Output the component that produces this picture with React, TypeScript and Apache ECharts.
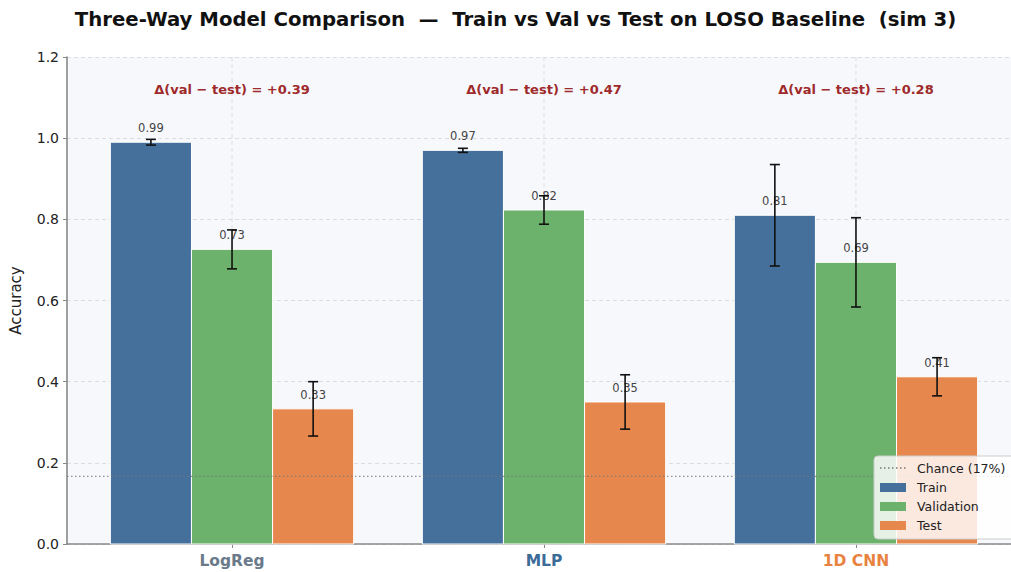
import React, { useEffect, useRef } from "react";
import * as echarts from "echarts";

// Models compared, and the colour each model name is printed in
const categories = ["LogReg", "MLP", "1D CNN"];
const categoryColors = ["#6b7a8a", "#3c6b98", "#e8833f"];

// Data splits
const splitNames = ["Train", "Validation", "Test"];
const splitColors = ["#44709b", "#6cb26c", "#e6884e"];

// Mean accuracy and standard deviation per model
const trainAcc = [0.99, 0.97, 0.81];
const trainStd = [0.007, 0.005, 0.125];
const valAcc = [0.726, 0.823, 0.694];
const valStd = [0.048, 0.035, 0.11];
const testAcc = [0.333, 0.35, 0.412];
const testStd = [0.067, 0.067, 0.047];

const chanceLevel = 1 / 6;
const chanceLabel = "Chance (17%)";

const FONT = "DejaVu Sans";
const BAR_W = 0.26;
const OFFSETS = [-BAR_W, 0, BAR_W];
const X_MIN = -0.529;
const X_MAX = 2.529;
const Y_MAX = 1.2;

const means = [trainAcc, valAcc, testAcc];
const stds = [trainStd, valStd, testStd];

const GRID_LINE = { stroke: "#dcdde3", lineWidth: 1, lineDash: [4, 3] };

function barSeries(s: number) {
  const data = categories.map((_, i) => [i, means[s][i], stds[s][i]]);
  return {
    type: "custom",
    name: splitNames[s],
    data,
    z: 3,
    renderItem: (_params: any, api: any) => {
      const i = api.value(0) as number;
      const v = api.value(1) as number;
      const sd = api.value(2) as number;
      const xc = i + OFFSETS[s];
      const tl = api.coord([xc - BAR_W / 2, v]);
      const br = api.coord([xc + BAR_W / 2, 0]);
      const top = api.coord([xc, v + sd]);
      const bot = api.coord([xc, v - sd]);
      const lbl = api.coord([xc, v + 0.02]);
      const cap = 5;
      const errStyle = { stroke: "#111", lineWidth: 1.6 };
      return {
        type: "group",
        children: [
          {
            type: "rect",
            shape: { x: tl[0], y: tl[1], width: br[0] - tl[0], height: br[1] - tl[1] },
            style: { fill: splitColors[s], stroke: "#ffffff", lineWidth: 1 },
          },
          {
            type: "text",
            x: lbl[0],
            y: lbl[1],
            style: {
              text: v.toFixed(2),
              fill: "#444444",
              font: `11.5px "${FONT}"`,
              align: "center",
              verticalAlign: "bottom",
            },
          },
          { type: "line", shape: { x1: top[0], y1: top[1], x2: bot[0], y2: bot[1] }, style: errStyle },
          { type: "line", shape: { x1: top[0] - cap, y1: top[1], x2: top[0] + cap, y2: top[1] }, style: errStyle },
          { type: "line", shape: { x1: bot[0] - cap, y1: bot[1], x2: bot[0] + cap, y2: bot[1] }, style: errStyle },
        ],
      };
    },
  };
}

export default function App() {
  const ref = useRef<HTMLDivElement>(null);

  useEffect(() => {
    if (!ref.current) return;
    const chart = echarts.init(ref.current, undefined, { renderer: "svg" });

    const deltas = categories.map((_, i) => [i, valAcc[i] - testAcc[i]]);
    const rich: Record<string, any> = {};
    categories.forEach((_, i) => {
      rich["c" + i] = { color: categoryColors[i], fontWeight: "bold", fontSize: 15.5, fontFamily: FONT };
    });

    // legend drawn as a framed box in the lower right corner
    const lx = 874;
    const ly = 456;
    const legendRows = [chanceLabel, ...splitNames];
    const legendChildren: any[] = [
      {
        type: "rect",
        z: 100,
        shape: { x: lx, y: ly, width: 170, height: 83, r: 4 },
        style: { fill: "rgba(255,255,255,0.82)", stroke: "#cccccc", lineWidth: 1 },
      },
    ];
    legendRows.forEach((name, k) => {
      const cy = ly + 12 + k * 19;
      if (k === 0) {
        legendChildren.push({
          type: "line",
          z: 101,
          shape: { x1: lx + 6, y1: cy, x2: lx + 32, y2: cy },
          style: { stroke: "#777777", lineWidth: 1.4, lineDash: [1.5, 2.5] },
        });
      } else {
        legendChildren.push({
          type: "rect",
          z: 101,
          shape: { x: lx + 6, y: cy - 4, width: 26, height: 9 },
          style: { fill: splitColors[k - 1] },
        });
      }
      legendChildren.push({
        type: "text",
        z: 101,
        x: lx + 43,
        y: cy,
        style: { text: name, fill: "#222222", font: `12.5px "${FONT}"`, verticalAlign: "middle" },
      });
    });

    chart.setOption({
      animation: false,
      backgroundColor: "#ffffff",
      textStyle: { fontFamily: FONT },
      title: {
        text: "Three-Way Model Comparison  —  Train vs Val vs Test on LOSO Baseline  (sim 3)",
        left: "center",
        top: 4,
        textStyle: { fontFamily: FONT, fontWeight: "bold", fontSize: 19.7, color: "#111111" },
      },
      grid: {
        left: 66,
        right: 10,
        top: 57,
        bottom: 28,
        show: true,
        backgroundColor: "#f7f8fc",
        borderWidth: 0,
      },
      xAxis: {
        type: "value",
        min: X_MIN,
        max: X_MAX,
        axisLine: { show: true, onZero: false, lineStyle: { color: "#888888", width: 1.6 } },
        axisTick: { show: true, customValues: [0, 1, 2], length: 4, lineStyle: { color: "#888888" } },
        axisLabel: {
          customValues: [0, 1, 2],
          margin: 9,
          formatter: (v: number) => `{c${Math.round(v)}|${categories[Math.round(v)]}}`,
          rich,
        },
        splitLine: { show: false },
      },
      yAxis: {
        type: "value",
        min: 0,
        max: Y_MAX,
        interval: 0.2,
        name: "Accuracy",
        nameLocation: "middle",
        nameGap: 44,
        nameRotate: 90,
        nameTextStyle: { fontFamily: FONT, fontSize: 15, color: "#222222" },
        axisLine: { show: true, onZero: false, lineStyle: { color: "#888888", width: 1.6 } },
        axisTick: { show: true, length: 4, lineStyle: { color: "#888888" } },
        axisLabel: {
          fontFamily: FONT,
          fontSize: 14,
          color: "#222222",
          margin: 8,
          formatter: (v: number) => v.toFixed(1),
        },
        splitLine: { show: true, lineStyle: { color: "#dcdde3", type: [4, 3], width: 1 } },
      },
      series: [
        {
          // vertical grid lines at each model position
          type: "custom",
          name: "xgrid",
          silent: true,
          z: 1,
          data: categories.map((_, i) => [i]),
          renderItem: (_params: any, api: any) => {
            const i = api.value(0) as number;
            const a = api.coord([i, 0]);
            const b = api.coord([i, Y_MAX]);
            return { type: "line", shape: { x1: a[0], y1: a[1], x2: b[0], y2: b[1] }, style: GRID_LINE };
          },
        },
        {
          type: "line",
          name: chanceLabel,
          data: [
            [X_MIN, chanceLevel],
            [X_MAX, chanceLevel],
          ],
          showSymbol: false,
          silent: true,
          z: 4,
          lineStyle: { color: "#777777", width: 1.4, type: [1.5, 2.5], opacity: 0.8 },
        },
        barSeries(0),
        barSeries(1),
        barSeries(2),
        {
          type: "custom",
          name: "delta",
          data: deltas,
          z: 5,
          renderItem: (_params: any, api: any) => {
            const i = api.value(0) as number;
            const d = api.value(1) as number;
            const p = api.coord([i, 1.12]);
            return {
              type: "text",
              x: p[0],
              y: p[1],
              style: {
                text: `Δ(val − test) = ${d >= 0 ? "+" : ""}${d.toFixed(2)}`,
                fill: "#9e2a2b",
                font: `bold 13px "${FONT}"`,
                align: "center",
                verticalAlign: "middle",
              },
            };
          },
        },
      ],
      graphic: [{ type: "group", children: legendChildren, z: 100 }],
    });

    return () => chart.dispose();
  }, []);

  return (
    <div style={{ position: "fixed", left: 0, top: 0, width: 1011, height: 572, overflow: "hidden" }}>
      <div ref={ref} style={{ width: 1031, height: 572 }} />
    </div>
  );
}
